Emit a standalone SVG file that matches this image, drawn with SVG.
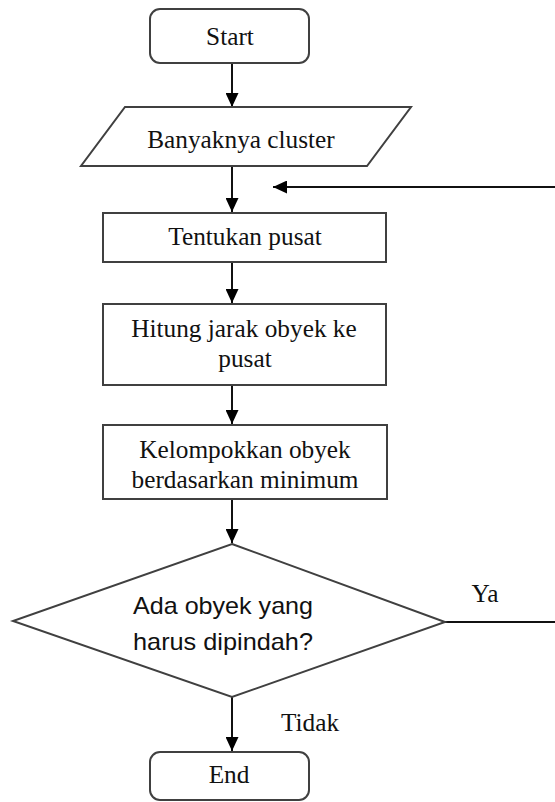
<svg xmlns="http://www.w3.org/2000/svg" width="555" height="802" viewBox="0 0 555 802">
<defs>
<style>
.box{fill:#fff;stroke:#404040;stroke-width:2}
.t{font-family:"Liberation Serif","Times New Roman",serif;font-size:25.3px;fill:#111;text-anchor:middle}
.s{font-family:"Liberation Sans",Arial,sans-serif;font-size:24px;fill:#111}
.c{fill:none;stroke:#111;stroke-width:2}
</style>
<marker id="ah" markerUnits="userSpaceOnUse" markerWidth="14" markerHeight="13" refX="14" refY="6.5" orient="auto">
<path d="M0,0 L14,6.5 L0,13 z" fill="#000"/>
</marker>
</defs>
<rect width="555" height="802" fill="#fff"/>
<g id="connectors">
<line class="c" x1="232" y1="63" x2="232" y2="107" marker-end="url(#ah)"/>
<line class="c" x1="232" y1="166" x2="232" y2="212" marker-end="url(#ah)"/>
<line class="c" x1="232" y1="262" x2="232" y2="303" marker-end="url(#ah)"/>
<line class="c" x1="232" y1="385" x2="232" y2="424" marker-end="url(#ah)"/>
<line class="c" x1="232" y1="499" x2="232" y2="543" marker-end="url(#ah)"/>
<line class="c" x1="232" y1="697" x2="232" y2="751" marker-end="url(#ah)"/>
<line class="c" x1="445" y1="622" x2="556" y2="622"/>
<line class="c" x1="556" y1="187" x2="273" y2="187" marker-end="url(#ah)"/>
<text class="t" x="485" y="602">Ya</text>
<text class="t" x="310" y="731">Tidak</text>
</g>
<g id="start">
<rect class="box" x="150" y="9" width="159" height="54" rx="10"/>
<text class="t" x="230" y="45">Start</text>
</g>
<g id="input">
<polygon class="box" points="125,107 411,107 367,166 81,166"/>
<text class="t" x="241" y="148">Banyaknya cluster</text>
</g>
<g id="tentukan">
<rect class="box" x="103" y="213" width="283" height="49"/>
<text class="t" x="245" y="245">Tentukan pusat</text>
</g>
<g id="hitung">
<rect class="box" x="103" y="304" width="283" height="81"/>
<text class="t" x="244" y="337">Hitung jarak obyek ke</text>
<text class="t" x="245" y="367">pusat</text>
</g>
<g id="kelompokkan">
<rect class="box" x="103" y="425" width="284" height="74"/>
<text class="t" x="245" y="458">Kelompokkan obyek</text>
<text class="t" x="245" y="488">berdasarkan minimum</text>
</g>
<g id="decision">
<polygon class="box" points="232,544 445,622 232,697 13,621"/>
<text class="s" x="133" y="614" textLength="180" lengthAdjust="spacingAndGlyphs">Ada obyek yang</text>
<text class="s" x="133" y="650" textLength="180" lengthAdjust="spacingAndGlyphs">harus dipindah?</text>
</g>
<g id="end">
<rect class="box" x="150" y="752" width="159" height="48" rx="10"/>
<text class="t" x="229" y="783">End</text>
</g>
</svg>
